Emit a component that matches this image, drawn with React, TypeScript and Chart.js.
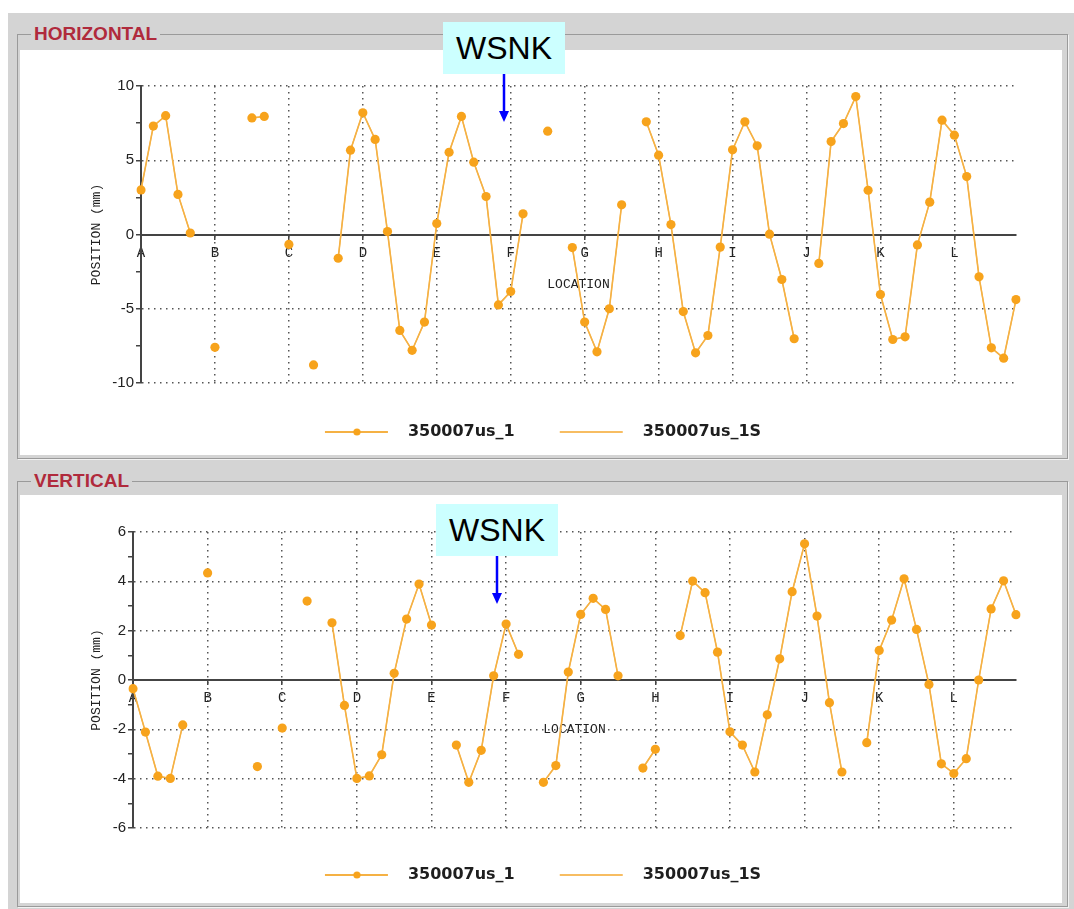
import React, { useEffect, useRef } from 'react';
import { Chart, registerables } from 'chart.js';

Chart.register(...registerables);

// ---------- data ----------
const LOCATIONS = ['A', 'B', 'C', 'D', 'E', 'F', 'G', 'H', 'I', 'J', 'K', 'L'];
const SAMPLES_PER_LOCATION = 6;
const SAMPLE_COUNT = 72;
const CATEGORIES = Array.from({ length: SAMPLE_COUNT }, (_, i) =>
  i % SAMPLES_PER_LOCATION === 0 ? LOCATIONS[i / SAMPLES_PER_LOCATION] : ''
);

const SERIES_NAMES = ['350007us_1', '350007us_1S'];

const H_350007US_1 = [
  3.0, 7.3, 8.0, 2.7, 0.1, null, -7.6, null, null, 7.85,
  7.95, null, -0.67, null, -8.78, null, -1.6, 5.68, 8.2, 6.4,
  0.2, -6.46, -7.8, -5.9, 0.74, 5.54, 7.95, 4.87, 2.56, -4.74,
  -3.84, 1.39, null, 6.96, null, -0.88, -5.9, -7.9, -5.0, 2.0,
  null, 7.59, 5.34, 0.67, -5.19, -7.97, -6.8, -0.85, 5.7, 7.59,
  5.97, 0.02, -3.03, -7.02, null, -1.95, 6.26, 7.47, 9.29, 2.98,
  -4.04, -7.07, -6.89, -0.7, 2.18, 7.7, 6.69, 3.9, -2.85, -7.63,
  -8.33, -4.38,
];
const H_350007US_1S = [
  3.0, 7.3, 8.0, 2.7, 0.1, null, -7.6, null, null, 7.85,
  7.95, null, -0.67, null, -8.78, null, -1.6, 5.68, 8.2, 6.4,
  0.2, -6.46, -7.8, -5.9, 0.74, 5.54, 7.95, 4.87, 2.56, -4.74,
  -3.84, 1.39, null, 6.96, null, -0.88, -5.9, -7.9, -5.0, 2.0,
  null, 7.59, 5.34, 0.67, -5.19, -7.97, -6.8, -0.85, 5.7, 7.59,
  5.97, 0.02, -3.03, -7.02, null, -1.95, 6.26, 7.47, 9.29, 2.98,
  -4.04, -7.07, -6.89, -0.7, 2.18, 7.7, 6.69, 3.9, -2.85, -7.63,
  -8.33, -4.38,
];
const V_350007US_1 = [
  -0.35, -2.11, -3.9, -3.99, -1.82, null, 4.34, null, null, null,
  -3.51, null, -1.95, null, 3.2, null, 2.32, -1.03, -3.99, -3.89,
  -3.03, 0.27, 2.47, 3.89, 2.23, null, -2.64, -4.15, -2.85, 0.17,
  2.27, 1.04, null, -4.15, -3.47, 0.32, 2.66, 3.31, 2.86, 0.17,
  null, -3.57, -2.81, null, 1.8, 4.01, 3.54, 1.13, -2.1, -2.64,
  -3.73, -1.41, 0.86, 3.58, 5.52, 2.59, -0.92, -3.73, null, -2.54,
  1.2, 2.43, 4.1, 2.05, -0.18, -3.4, -3.79, -3.19, 0.0, 2.88,
  4.02, 2.65,
];
const V_350007US_1S = [
  -0.35, -2.11, -3.9, -3.99, -1.82, null, 4.34, null, null, null,
  -3.51, null, -1.95, null, 3.2, null, 2.32, -1.03, -3.99, -3.89,
  -3.03, 0.27, 2.47, 3.89, 2.23, null, -2.64, -4.15, -2.85, 0.17,
  2.27, 1.04, null, -4.15, -3.47, 0.32, 2.66, 3.31, 2.86, 0.17,
  null, -3.57, -2.81, null, 1.8, 4.01, 3.54, 1.13, -2.1, -2.64,
  -3.73, -1.41, 0.86, 3.58, 5.52, 2.59, -0.92, -3.73, null, -2.54,
  1.2, 2.43, 4.1, 2.05, -0.18, -3.4, -3.79, -3.19, 0.0, 2.88,
  4.02, 2.65,
];

const H_Y_LABELED = [-10, -5, 0, 5, 10];
const V_Y_LABELED = [-6, -4, -2, 0, 2, 4, 6];

// ---------- styles ----------
const POINT_COLOR = '#F7A31C';
const LINE_COLOR = '#F5B144';
const LINE_S_COLOR = '#F7BD62';
const GRID_COLOR = '#555555';
const AXIS_COLOR = '#444444';
const GRAY = '#D4D4D4';
const SWATCH_W = 100;
const SWATCH_L = 25;

function makeSwatch(color: string, withDot: boolean): HTMLCanvasElement {
  const c = document.createElement('canvas');
  c.width = SWATCH_W;
  c.height = 12;
  const g = c.getContext('2d')!;
  g.strokeStyle = color;
  g.lineWidth = 2;
  g.beginPath();
  g.moveTo(SWATCH_L, 6);
  g.lineTo(SWATCH_L + 63, 6);
  g.stroke();
  if (withDot) {
    g.fillStyle = POINT_COLOR;
    g.beginPath();
    g.arc(SWATCH_L + 32, 6, 3.6, 0, Math.PI * 2);
    g.fill();
  }
  return c;
}

type PanelProps = {
  width: number;
  height: number;
  values1: (number | null)[];
  values1S: (number | null)[];
  yMin: number;
  yMax: number;
  yStep: number;
  labeled: number[];
  yAxisWidth: number;
  padding: { top: number; right: number; bottom: number; left: number };
  legendGap: number;
};

function ChartPanel(p: PanelProps) {
  const ref = useRef<HTMLCanvasElement | null>(null);
  useEffect(() => {
    if (!ref.current) return;
    const swatches = [makeSwatch(LINE_COLOR, true), makeSwatch(LINE_S_COLOR, false)];
    const chart = new Chart(ref.current, {
      type: 'line',
      data: {
        labels: CATEGORIES,
        datasets: [
          {
            label: SERIES_NAMES[0],
            data: p.values1,
            borderColor: LINE_COLOR,
            borderWidth: 1.6,
            pointRadius: 4.6,
            pointBackgroundColor: POINT_COLOR,
            pointBorderWidth: 0,
            spanGaps: false,
            tension: 0,
          },
          {
            label: SERIES_NAMES[1],
            data: p.values1S,
            borderColor: LINE_S_COLOR,
            borderWidth: 1.2,
            pointRadius: 0,
            spanGaps: false,
            tension: 0,
          },
        ],
      },
      options: {
        responsive: false,
        animation: false,
        events: [],
        layout: { padding: p.padding },
        scales: {
          x: {
            type: 'category',
            position: { y: 0 } as any,
            offset: false,
            grid: {
              display: true,
              color: (ctx: any) => (ctx.index % SAMPLES_PER_LOCATION === 0 ? GRID_COLOR : 'rgba(0,0,0,0)'),
              tickColor: (ctx: any) => (ctx.index % SAMPLES_PER_LOCATION === 0 ? AXIS_COLOR : 'rgba(0,0,0,0)'),
              lineWidth: 1.5,
              tickLength: 4,
              tickWidth: 1.5,
            },
            border: { display: true, color: AXIS_COLOR, width: 2, dash: [1.5, 4.5] },
            ticks: {
              autoSkip: false,
              maxRotation: 0,
              padding: 6,
              color: '#222',
              font: { family: '"Liberation Mono", monospace', size: 14 },
            },
            title: {
              display: true,
              text: 'LOCATION',
              color: '#222',
              padding: { top: 9, bottom: 0 },
              font: { family: '"Liberation Mono", monospace', size: 13 },
            },
          },
          y: {
            min: p.yMin,
            max: p.yMax,
            afterFit: (scale: any) => {
              scale.width = p.yAxisWidth;
            },
            grid: {
              color: (ctx: any) => (p.labeled.includes(ctx.tick.value) ? GRID_COLOR : 'rgba(0,0,0,0)'),
              tickColor: AXIS_COLOR,
              lineWidth: 1.5,
              tickLength: 5,
              tickWidth: 1.5,
            },
            border: { display: true, color: AXIS_COLOR, width: 2, dash: [1.5, 4.5] },
            ticks: {
              stepSize: p.yStep,
              padding: 2,
              color: '#222',
              font: { family: '"Liberation Sans", Arial, sans-serif', size: 15 },
              callback: (v: any) => (p.labeled.includes(Number(v)) ? String(v) : ''),
            },
            title: {
              display: true,
              text: 'POSITION (mm)',
              color: '#222',
              padding: { top: 44, bottom: 0 },
              font: { family: '"Liberation Mono", monospace', size: 13 },
            },
          },
        },
        plugins: {
          tooltip: { enabled: false },
          legend: {
            display: true,
            position: 'bottom',
            align: 'center',
            title: {
              display: true,
              text: '',
              padding: 0,
              font: { size: p.legendGap, lineHeight: 1 },
            },
            labels: {
              usePointStyle: true,
              pointStyleWidth: SWATCH_W,
              padding: 20,
              color: '#1e1e1e',
              font: { family: '"DejaVu Sans", sans-serif', size: 16, weight: 'bold' },
              generateLabels: (c: any) =>
                c.data.datasets.map((ds: any, i: number) => ({
                  text: ds.label,
                  fontColor: '#1e1e1e',
                  pointStyle: swatches[i],
                  fillStyle: 'rgba(0,0,0,0)',
                  strokeStyle: 'rgba(0,0,0,0)',
                  lineWidth: 0,
                  hidden: false,
                  datasetIndex: i,
                })),
            },
          },
        },
      } as any,
    });
    return () => chart.destroy();
  }, []);
  return <canvas ref={ref} width={p.width} height={p.height} style={{ display: 'block' }} />;
}

function Wsnk({ left, top, arrowX, arrowBottom }: { left: number; top: number; arrowX: number; arrowBottom: number }) {
  const boxH = 52;
  const lineTop = top + boxH;
  const h = arrowBottom - lineTop;
  return (
    <>
      <div
        style={{
          position: 'absolute',
          left,
          top,
          width: 122,
          height: boxH,
          background: '#CCFFFF',
          color: '#000',
          font: '32px "Liberation Sans", Arial, sans-serif',
          lineHeight: boxH + 'px',
          textAlign: 'center',
        }}
      >
        WSNK
      </div>
      <svg style={{ position: 'absolute', left: arrowX - 8, top: lineTop, overflow: 'visible' }} width={16} height={h}>
        <line x1={8} y1={0} x2={8} y2={h - 8} stroke="#0000FF" strokeWidth={2.5} />
        <polygon points={`3,${h - 11} 13,${h - 11} 8,${h}`} fill="#0000FF" />
      </svg>
    </>
  );
}

const titleStyle: React.CSSProperties = {
  position: 'absolute',
  left: 31,
  padding: '0 3px',
  background: GRAY,
  color: '#B02A3C',
  font: 'bold 19px "Liberation Sans", Arial, sans-serif',
  lineHeight: '20px',
};

export default function App() {
  return (
    <div style={{ position: 'absolute', left: 0, top: 0, width: 1074, height: 909, background: '#fff', overflow: 'hidden' }}>
      <div style={{ position: 'absolute', left: 8, top: 13, width: 1066, height: 896, background: GRAY }} />
      {/* HORIZONTAL group */}
      <div
        style={{
          position: 'absolute', left: 17, top: 34, width: 1049, height: 423,
          border: '1px solid #9a9a9a', boxShadow: '1px 1px 0 0 #f2f2f2',
        }}
      />
      <div style={{ ...titleStyle, top: 24 }}>HORIZONTAL</div>
      <div style={{ position: 'absolute', left: 20, top: 50, width: 1042, height: 405, background: '#fff' }}>
        <ChartPanel
          width={1042}
          height={405}
          values1={H_350007US_1}
          values1S={H_350007US_1S}
          yMin={-10}
          yMax={10}
          yStep={2.5}
          labeled={H_Y_LABELED}
          yAxisWidth={96}
          padding={{ top: 36, right: 46, bottom: 5, left: 25 }}
          legendGap={21}
        />
      </div>
      {/* VERTICAL group */}
      <div
        style={{
          position: 'absolute', left: 17, top: 481, width: 1049, height: 424,
          border: '1px solid #9a9a9a', boxShadow: '1px 1px 0 0 #f2f2f2',
        }}
      />
      <div style={{ ...titleStyle, top: 471 }}>VERTICAL</div>
      <div style={{ position: 'absolute', left: 20, top: 495, width: 1042, height: 408, background: '#fff' }}>
        <ChartPanel
          width={1042}
          height={408}
          values1={V_350007US_1}
          values1S={V_350007US_1S}
          yMin={-6}
          yMax={6}
          yStep={1}
          labeled={V_Y_LABELED}
          yAxisWidth={88}
          padding={{ top: 37, right: 46, bottom: 10, left: 25 }}
          legendGap={19}
        />
      </div>
      <Wsnk left={443} top={22} arrowX={504} arrowBottom={122} />
      <Wsnk left={436} top={504} arrowX={497} arrowBottom={604} />
    </div>
  );
}
